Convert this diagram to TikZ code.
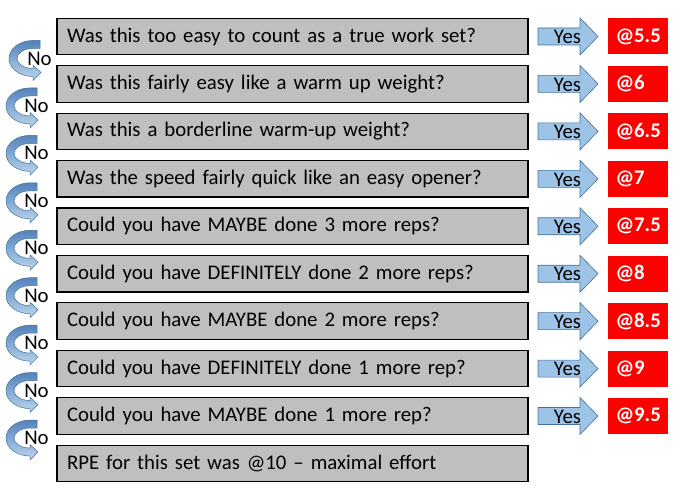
\documentclass[tikz,border=0pt]{standalone}
\usepackage{fontspec}
\setmainfont{Carlito}
\usetikzlibrary{positioning}
\definecolor{boxgray}{RGB}{191, 191, 191}
\definecolor{yesblue}{RGB}{157, 195, 230}
\definecolor{yesline}{RGB}{65, 113, 156}
\definecolor{nodark}{RGB}{84, 130, 186}
\definecolor{nolight}{RGB}{189, 215, 238}
\definecolor{rpered}{RGB}{255, 0, 0}
\tikzstyle{question} = [rectangle, draw=black, line width=1.2pt, fill=boxgray, text width=451pt, inner xsep=10pt, minimum height=36.5pt, align=left, font=\fontsize{20.8}{24}\selectfont]
\tikzstyle{rpe} = [rectangle, fill=rpered, text=white, text width=44pt, inner xsep=8pt, minimum height=36pt, align=left, font=\fontsize{20.8}{24}\selectfont\bfseries]
\tikzstyle{answer} = [inner sep=0pt, font=\fontsize{20.8}{24}\selectfont]
\tikzset{
  yesarrow/.pic={
    \draw[draw=yesline, fill=yesblue, line width=0.6pt]
      (0,8.5) -- (42,8.5) -- (42,18.5) -- (60,0) -- (42,-18.5) -- (42,-8.5) -- (0,-8.5) -- cycle;
    \node (-label) [answer, anchor=base] at (29.5,-7.2) {Yes};
  },
  noarrow/.pic={
    \shade[top color=nodark, bottom color=nolight, draw=yesline, line width=0.5pt]
      (7,18) -- (0,18) arc[start angle=90, end angle=270, x radius=24, y radius=18]
      -- (0,-22) -- (8,-14) -- (0,-6.5) -- (0,-10)
      arc[start angle=270, end angle=90, x radius=16, y radius=10] -- (7,10) -- cycle;
    \node (-label) [answer] at (6.5,0) {No};
  }
}

\begin{document}
\begin{tikzpicture}[x=1pt, y=1pt, node distance=47.44pt]
\useasboundingbox (0,0) rectangle (675,491);

% Questions
\node (q1) [question] at (292.5,454.5) {Was this too easy to count as a true work set?};
\node (q2) [question, below of=q1] {Was this fairly easy like a warm up weight?};
\node (q3) [question, below of=q2] {Was this a borderline warm-up weight?};
\node (q4) [question, below of=q3] {Was the speed fairly quick like an easy opener?};
\node (q5) [question, below of=q4] {Could you have MAYBE done 3 more reps?};
\node (q6) [question, below of=q5] {Could you have DEFINITELY done 2 more reps?};
\node (q7) [question, below of=q6] {Could you have MAYBE done 2 more reps?};
\node (q8) [question, below of=q7] {Could you have DEFINITELY done 1 more rep?};
\node (q9) [question, below of=q8] {Could you have MAYBE done 1 more rep?};
\node (q10) [question, below of=q9] {RPE for this set was @10 -- maximal effort};

% RPE values
\node (rpe1) [rpe] at (637.5,454.5) {@5.5};
\node (rpe2) [rpe, below of=rpe1] {@6};
\node (rpe3) [rpe, below of=rpe2] {@6.5};
\node (rpe4) [rpe, below of=rpe3] {@7};
\node (rpe5) [rpe, below of=rpe4] {@7.5};
\node (rpe6) [rpe, below of=rpe5] {@8};
\node (rpe7) [rpe, below of=rpe6] {@8.5};
\node (rpe8) [rpe, below of=rpe7] {@9};
\node (rpe9) [rpe, below of=rpe8] {@9.5};

% Yes arrows
\pic (yes1) at ([xshift=9.4pt]q1.east) {yesarrow};
\pic (yes2) at ([xshift=9.4pt]q2.east) {yesarrow};
\pic (yes3) at ([xshift=9.4pt]q3.east) {yesarrow};
\pic (yes4) at ([xshift=9.4pt]q4.east) {yesarrow};
\pic (yes5) at ([xshift=9.4pt]q5.east) {yesarrow};
\pic (yes6) at ([xshift=9.4pt]q6.east) {yesarrow};
\pic (yes7) at ([xshift=9.4pt]q7.east) {yesarrow};
\pic (yes8) at ([xshift=9.4pt]q8.east) {yesarrow};
\pic (yes9) at ([xshift=9.4pt]q9.east) {yesarrow};

% No arrows
\pic (no1) at ([xshift=-259.5pt, yshift=-22pt]q1.center) {noarrow};
\pic (no2) at ([xshift=-262.5pt, yshift=-22pt]q2.center) {noarrow};
\pic (no3) at ([xshift=-262.5pt, yshift=-22pt]q3.center) {noarrow};
\pic (no4) at ([xshift=-262.5pt, yshift=-22pt]q4.center) {noarrow};
\pic (no5) at ([xshift=-262.5pt, yshift=-22pt]q5.center) {noarrow};
\pic (no6) at ([xshift=-262.5pt, yshift=-22pt]q6.center) {noarrow};
\pic (no7) at ([xshift=-262.5pt, yshift=-22pt]q7.center) {noarrow};
\pic (no8) at ([xshift=-262.5pt, yshift=-22pt]q8.center) {noarrow};
\pic (no9) at ([xshift=-262.5pt, yshift=-22pt]q9.center) {noarrow};

\end{tikzpicture}
\end{document}
